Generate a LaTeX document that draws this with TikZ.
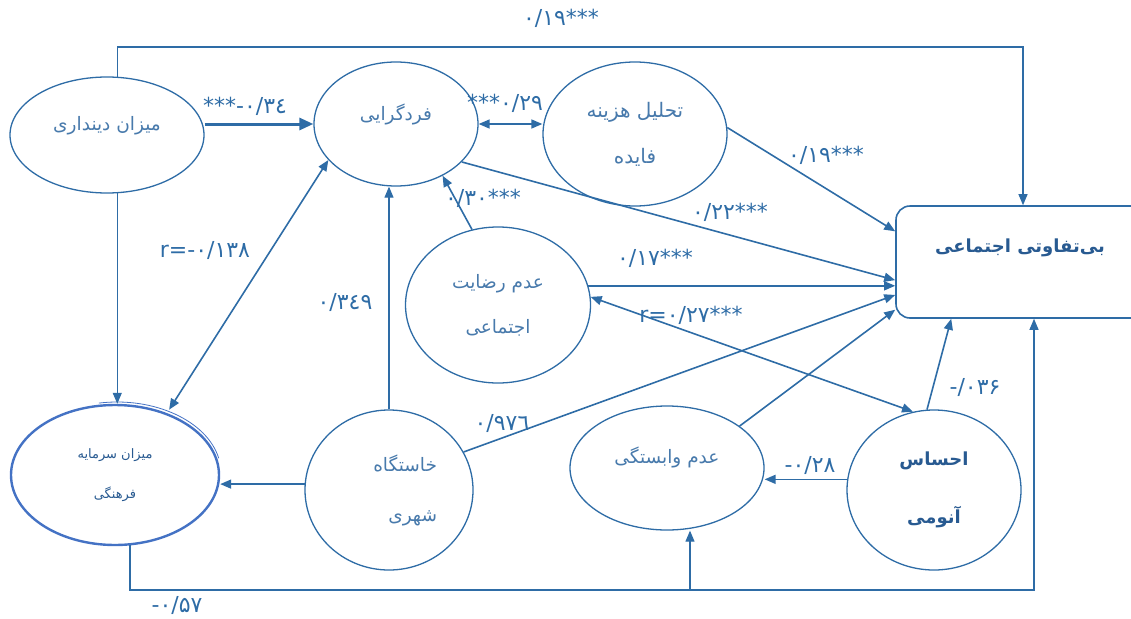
\documentclass[tikz,border=0pt]{standalone}
\usepackage{fontspec}
\usetikzlibrary{shapes.geometric,arrows.meta,calc}
\newfontfamily\fa[Script=Arabic]{DejaVu Sans}
\newfontfamily\nm{DejaVu Sans}
\TeXXeTstate=1
\definecolor{lineblue}{RGB}{46,108,166}
\definecolor{txtblue}{RGB}{72,122,172}
\definecolor{rimblue}{RGB}{68,114,196}
\definecolor{boxtxt}{RGB}{40,90,145}

\begin{document}
\begin{tikzpicture}[x=1pt,y=-1pt,
  var/.style={ellipse, draw=lineblue, line width=1.3pt, fill=white, inner sep=0pt, text=txtblue, font=\fa\fontsize{18.5}{21}\selectfont, align=center},
  coef/.style={text=lineblue, font=\nm\fontsize{22}{24}\selectfont, inner sep=1pt},
  arr/.style={draw=lineblue, line width=1.6pt, -{Triangle[length=11pt,width=9pt]}},
  corr/.style={draw=lineblue, line width=1.6pt, {Triangle[length=11pt,width=9pt]}-{Triangle[length=11pt,width=9pt]}},
  wire/.style={draw=lineblue, line width=1.1pt, -{Triangle[length=11pt,width=9pt]}}]
\useasboundingbox (0,0) rectangle (1131,618);

\node[var, minimum width=194pt, minimum height=116pt, text depth=24pt] (dind) at (107,135) {\beginR میزان دینداری\endR};
\node[var, minimum width=164pt, minimum height=124pt, text depth=24pt] (fard) at (396,124) {\beginR فردگرایی\endR};
\node[var, minimum width=184pt, minimum height=144pt, font=\fa\fontsize{20}{22}\selectfont] (tahl) at (635,134) {\beginR تحلیل هزینه\endR\\[24pt]\beginR فایده\endR};
\node[var, minimum width=185pt, minimum height=156pt] (rez) at (498,305) {\beginR عدم رضایت\endR\\[24pt]\beginR اجتماعی\endR};
\node[var, minimum width=168pt, minimum height=160pt, text width=96pt, align=right] (khast) at (389,490) {\beginR خاستگاه\endR\\[29pt]\beginR شهری\endR};
\node[var, minimum width=194pt, minimum height=124pt, text depth=26pt] (vab) at (667,468) {\beginR عدم وابستگی\endR};
\node[var, minimum width=174pt, minimum height=160pt, font=\fa\bfseries\fontsize{18}{21}\selectfont, text=boxtxt] (anom) at (934,490) {\beginR احساس\endR\\[35pt]\beginR آنومی\endR};
\draw[rimblue, line width=0.8pt] (117,473) ++(-100:104 and 71) arc[start angle=-100, end angle=-12, x radius=104, y radius=71];
\node[var, minimum width=208pt, minimum height=140pt, draw=rimblue, line width=2.4pt, text=boxtxt, font=\fa\fontsize{13}{16}\selectfont] (sarm) at (115,475) {\beginR میزان سرمایه\endR\\[24pt]\beginR فرهنگی\endR};

\node[draw=lineblue, line width=1.6pt, rounded corners=14pt, minimum width=250pt, minimum height=112pt, inner sep=0pt] (bx) at (1021,262) {};
\node[text=boxtxt, font=\fa\bfseries\fontsize{18}{22}\selectfont] (bxT) at (1020,248) {\beginR بی‌تفاوتی اجتماعی\endR};

\coordinate (topc) at (1023,47);
\coordinate (botc) at (1034,590);
\coordinate (botv) at (690,590);
\draw[wire] (dind.80) |- (topc) -- (topc |- bx.north);
\draw[wire] (sarm.-78) |- (botc) -- (botc |- bx.south);
\draw[wire] (botv) -- (botv |- vab.south);
\draw[wire] (dind.-80) -- (dind.-80 |- sarm.north);
\draw[wire] (khast.north) -- (khast.north |- fard.south);

\draw[arr, line width=3pt, -{Triangle[length=14pt,width=12pt]}] (dind.east |- fard.west) -- (fard.west);
\draw[corr] (fard.east) -- (fard.east -| tahl.west);
\draw[arr] (tahl.4) -- ($(bx.north west)!0.23!(bx.south west)$);
\draw[arr] (fard.-30) -- ($(bx.north west)!0.66!(bx.south west)$);
\draw[arr] (rez.12) -- (rez.12 -| bx.west);
\draw[arr] (khast.27) -- ($(bx.north west)!0.79!(bx.south west)$);
\draw[arr] (vab.30) -- ($(bx.north west)!0.92!(bx.south west)$);
\draw[arr] (rez.109) -- (fard.-48);
\draw[corr, shorten >=4pt] (fard.208) -- (sarm.50);
\draw[arr] (khast.176) -- (khast.176 -| sarm.east);
\draw[corr] (rez.5) -- (anom.105);
\draw[arr] (anom.95) -- ($(bx.south west)+(56,0)$);
\draw[arr] (anom.173) -- (anom.173 -| vab.east);

\node[coef] (cTop) at (561,18) {۰/۱۹***};
\node[coef] (cDind) at (245,106) {***-۰/۳٤};
\node[coef] (cTahl) at (505,103) {***۰/۲۹};
\node[coef] (cTahlB) at (826,155) {۰/۱۹***};
\node[coef] (cFard) at (730,212) {۰/۲۲***};
\node[coef] (cRez) at (655,258) {۰/۱۷***};
\node[coef] (cRezF) at (483,198) {۰/۳۰***};
\node[coef] (cSarm) at (205,250) {r=-۰/۱۳۸};
\node[coef] (cKhast) at (345,302) {۰/۳٤۹};
\node[coef] (cKhastB) at (502,423) {۰/۹۷٦};
\node[coef] (cAnomR) at (691,315) {r=۰/۲۷***};
\node[coef] (cAnom) at (975,387) {-/۰۳۶};
\node[coef] (cAnomV) at (810,465) {-۰/۲۸};
\node[coef] (cBot) at (177,605) {-۰/۵۷};
\end{tikzpicture}
\end{document}
